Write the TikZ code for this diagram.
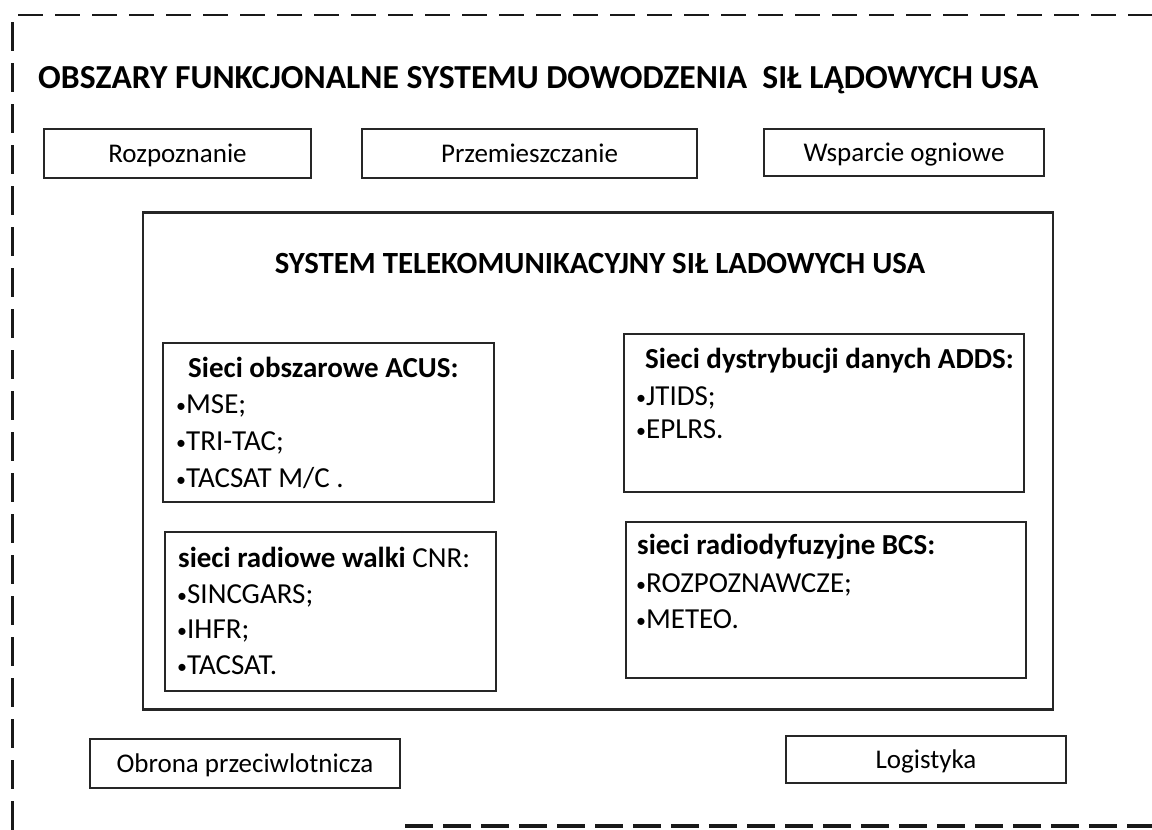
\documentclass[tikz,border=0pt]{standalone}
\usepackage{fontspec}
\setmainfont{Carlito}
\newcommand\bl{{\fontsize{20}{20}\selectfont\raisebox{1pt}{•}}}
\begin{document}
\begin{tikzpicture}[x=1pt,y=-1pt,
  box/.style={draw=black!85, line width=1.1pt, inner sep=0pt},
  fbox/.style={box, font=\fontsize{27}{32}\selectfont, text height=21.6pt, text depth=2.7pt},
  item/.style={anchor=base west, inner sep=0pt, font=\fontsize{29}{33}\selectfont},
  head/.style={item, font=\fontsize{29}{33}\selectfont\bfseries},
  border/.style={draw=black!90, line width=2.6pt}]
\useasboundingbox (0,0) rectangle (1152,830);
% dashed frame
\draw[border, dash pattern=on 25pt off 12pt] (18,15) -- (1152,15);
\draw[border, line width=3pt, dash pattern=on 29pt off 12pt] (12,22) -- (12,830);
\draw[border, line width=4pt, dash pattern=on 28pt off 10pt] (405,826) -- (1152,826);
% title
\node[anchor=base west, inner sep=0pt, font=\fontsize{33.6}{38}\selectfont\bfseries] (title) at (38,88)
  {OBSZARY FUNKCJONALNE SYSTEMU DOWODZENIA\ \ SIŁ LĄDOWYCH USA};
% functional areas
\node[fbox, minimum width=267pt, minimum height=49pt] (rozp) at (177.5,153.5) {Rozpoznanie};
\node[fbox, minimum width=335pt, minimum height=49pt] (przem) at (529.5,153.5) {Przemieszczanie};
\node[fbox, minimum width=280pt, minimum height=47pt] (wsp) at (904,152.5) {Wsparcie ogniowe};
\node[fbox, minimum width=310pt, minimum height=49pt] (obr) at (245,763.5) {Obrona przeciwlotnicza};
\node[fbox, minimum width=280pt, minimum height=47pt] (log) at (926,759.5) {Logistyka};
% telecom system
\node[box, draw=black!85, line width=2.5pt, minimum width=910pt, minimum height=497pt] (sys) at (598,461) {};
\node[anchor=base, inner sep=0pt, font=\fontsize{30.8}{34}\selectfont\bfseries] (systitle) at (600,273)
  {SYSTEM TELEKOMUNIKACYJNY SIŁ LADOWYCH USA};
% sub boxes
\node[box, minimum width=331pt, minimum height=159pt] (acus) at (328.5,422.5) {};
\node[box, minimum width=331pt, minimum height=159pt] (cnr) at (330.5,611.5) {};
\node[box, minimum width=400pt, minimum height=158pt] (adds) at (824,413) {};
\node[box, minimum width=400pt, minimum height=156pt] (bcs) at (826,600) {};
% ACUS
\node[head] (acush) at (188,377) {Sieci obszarowe ACUS:};
\node[item] (acus1) at (176,413) {\bl MSE;};
\node[item] (acus2) at (176,450) {\bl TRI-TAC;};
\node[item] (acus3) at (176,487) {\bl TACSAT M/C .};
% CNR
\node[item] (cnrh) at (178,567) {\textbf{sieci radiowe walki} CNR:};
\node[item] (cnr1) at (177,603) {\bl SINCGARS;};
\node[item] (cnr2) at (177,638) {\bl IHFR;};
\node[item] (cnr3) at (177,674) {\bl TACSAT.};
% ADDS
\node[head] (addsh) at (645,368) {Sieci dystrybucji danych ADDS:};
\node[item] (adds1) at (636,405) {\bl JTIDS;};
\node[item] (adds2) at (636,438) {\bl EPLRS.};
% BCS
\node[head] (bcsh) at (637,554) {sieci radiodyfuzyjne BCS:};
\node[item] (bcs1) at (636,592) {\bl ROZPOZNAWCZE;};
\node[item] (bcs2) at (636,628) {\bl METEO.};
\end{tikzpicture}
\end{document}
